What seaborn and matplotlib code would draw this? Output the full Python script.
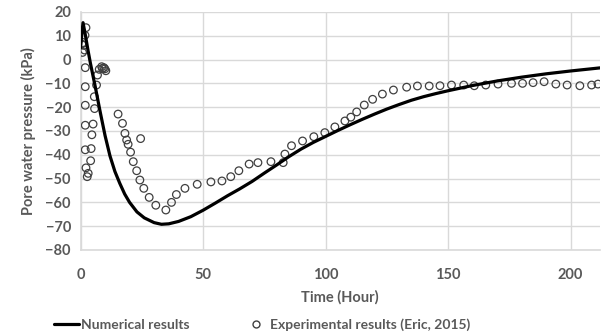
import numpy as np
import pandas as pd
import matplotlib
matplotlib.use("Agg")
import matplotlib.pyplot as plt
from matplotlib.lines import Line2D
import seaborn as sns

# Numerical results (time in hours, pore water pressure in kPa)
num_time = [0, 0.5, 1.0, 2, 3, 4, 5, 6, 8, 10, 12, 14, 16, 18, 20, 23, 26, 30, 33, 36,
            40, 45, 50, 55, 60, 65, 70, 75, 80, 85, 90, 95, 100, 105, 110, 115, 120,
            125, 130, 135, 140, 145, 150, 155, 160, 170, 180, 190, 200, 212]
num_pwp = [5, 11, 15.5, 10, 4, -1.5, -6.5, -11.5, -22, -32, -40.5, -47, -52, -56.5, -60,
           -64, -66.5, -68.5, -69.2, -69, -68, -66, -63.3, -60.3, -57.2, -54.3, -51.2,
           -47.7, -44.3, -40.8, -37.6, -34.8, -32.3, -29.8, -27.4, -25.1, -22.9, -20.8,
           -18.9, -17.1, -15.6, -14.3, -13.1, -12, -10.9, -9, -7.4, -6, -4.8, -3.5]

# Experimental results (Eric, 2015)
exp_time = [2.2, 1.8, 0.5, 1.2, 0.8, 1.6,
            1.9, 1.9, 1.9, 1.9, 1.9, 2.2, 2.7, 3.1,
            4.1, 4.3, 4.6, 5.1, 5.7, 5.6, 6.5, 6.9, 7.6, 8.6, 9.5, 10.3, 8.9, 9.9,
            15.3, 17.1, 18.1, 18.8, 19.4, 24.5, 20.4, 21.5, 22.9, 24.2, 25.8, 28.0,
            30.7, 34.8, 37.1, 39.1, 42.6, 47.6, 53.2, 57.7, 61.3, 64.6, 68.8, 72.4,
            77.7, 82.7, 83.4, 86.1, 90.6, 95.2, 99.7, 103.8, 107.9, 110.3, 112.7,
            115.8, 119.2, 123.2, 127.7, 133.1, 137.5, 142.3, 146.7, 151.4, 156.4,
            160.7, 165.4, 170.4, 175.9, 180.4, 184.7, 189.2, 194.0, 198.6, 203.8,
            208.6, 211.2]
exp_pwp = [13.4, 10.2, 6.5, 6.0, 3.0, 4.0,
           -3.4, -11.4, -19.2, -27.6, -37.9, -45.5, -49.2, -47.8,
           -42.5, -37.4, -31.6, -27.1, -20.6, -15.6, -10.7, -6.5, -4.1, -3.0, -3.4,
           -4.7, -3.7, -3.9,
           -22.9, -26.8, -31.0, -33.8, -35.6, -33.2, -38.9, -42.9, -46.7, -50.6,
           -54.1, -57.9, -61.2, -63.2, -60.0, -56.7, -54.1, -52.4, -51.4, -51.0,
           -49.2, -46.7, -43.9, -43.3, -42.9, -43.3, -39.7, -36.2, -34.2, -32.4,
           -30.7, -28.3, -25.8, -24.2, -22.0, -19.1, -16.7, -14.5, -12.8, -11.6,
           -11.1, -11.1, -11.0, -10.7, -10.7, -11.0, -10.7, -10.3, -10.0, -10.0,
           -9.7, -9.3, -10.3, -10.7, -11.0, -10.7, -10.3]

num_df = pd.DataFrame({"Time": num_time, "PWP": num_pwp})
exp_df = pd.DataFrame({"Time": exp_time, "PWP": exp_pwp})

sns.set_style("white")
plt.rcParams["font.family"] = ["Lato", "DejaVu Sans"]
plt.rcParams["font.weight"] = "bold"

txt = "#595959"
grid_c = "#d9d9d9"

fig = plt.figure(figsize=(6.06, 3.32), dpi=100)
ax = fig.add_axes([0.133, 0.247, 0.857, 0.717])

sns.scatterplot(data=exp_df, x="Time", y="PWP", ax=ax, marker="o", s=30,
                facecolors="none", edgecolor="#404040", linewidth=0.9, zorder=3)
sns.lineplot(data=num_df, x="Time", y="PWP", ax=ax, color="black", linewidth=2.3,
             sort=False, estimator=None, zorder=4)

ax.set_xlim(0, 212)
ax.set_ylim(-80, 20)
ax.set_xticks([0, 50, 100, 150, 200])
ax.set_yticks(np.arange(-80, 21, 10))
ax.grid(True, color=grid_c, linewidth=1.0)
ax.set_axisbelow(True)
for s in ["top", "right"]:
    ax.spines[s].set_visible(False)
for s in ["left", "bottom"]:
    ax.spines[s].set_color(grid_c)
    ax.spines[s].set_linewidth(1.2)
ax.tick_params(axis="both", length=0, labelsize=10.5, labelcolor=txt)
ax.tick_params(axis="x", pad=13)
ax.tick_params(axis="y", pad=7)

ax.set_xlabel("Time (Hour)", fontsize=10.5, color=txt, fontweight="bold", labelpad=6)
ax.set_ylabel("Pore water pressure (kPa)", fontsize=10.5, color=txt, fontweight="bold",
              labelpad=7)

handles = [Line2D([], [], color="black", linewidth=2.3),
           Line2D([], [], marker="o", linestyle="none", markerfacecolor="none",
                  markeredgecolor="#404040", markersize=5)]
labels = ["Numerical results", "Experimental results (Eric, 2015)"]
fig.legend(handles, labels, loc="lower center", bbox_to_anchor=(0.433, -0.035), ncol=2,
           frameon=False, fontsize=10, labelcolor=txt, columnspacing=3.9,
           handlelength=1.8, handletextpad=0.1)

fig.savefig("out.png", dpi=100)
